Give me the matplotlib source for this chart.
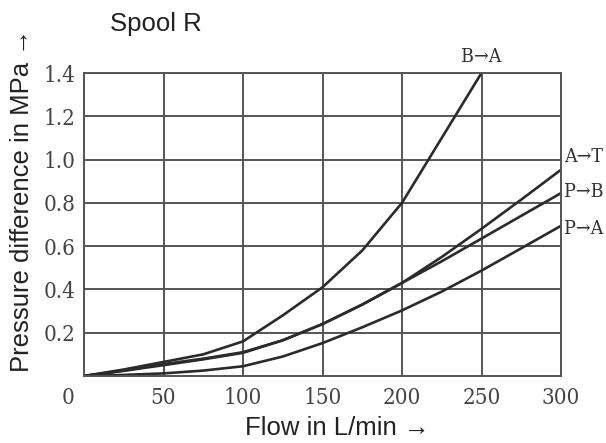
import matplotlib
matplotlib.use("Agg")
import matplotlib.pyplot as plt
from matplotlib import transforms

flow_BA = [0, 25, 50, 75, 100, 125, 150, 175, 200, 225, 250]
dp_BA = [0, 0.03, 0.065, 0.10, 0.16, 0.28, 0.41, 0.58, 0.80, 1.10, 1.40]

flow = [0, 25, 50, 75, 100, 125, 150, 175, 200, 225, 250, 275, 300]
dp_AT = [0, 0.025, 0.055, 0.08, 0.11, 0.165, 0.24, 0.33, 0.43, 0.55, 0.68, 0.815, 0.953]
dp_PB = [0, 0.024, 0.05, 0.077, 0.107, 0.165, 0.24, 0.33, 0.43, 0.53, 0.635, 0.74, 0.845]
dp_PA = [0, 0.005, 0.012, 0.025, 0.045, 0.09, 0.152, 0.225, 0.303, 0.39, 0.487, 0.59, 0.694]

xticks = [0, 50, 100, 150, 200, 250, 300]
yticks = [0.2, 0.4, 0.6, 0.8, 1.0, 1.2, 1.4]
ytick_labels = ["0.2", "0.4", "0.6", "0.8", "1.0", "1.2", "1.4"]

title = "Spool R"
xlabel = "Flow in L/min \u2192"
ylabel = "Pressure difference in MPa \u2192"

serif = dict(family="DejaVu Serif", stretch="condensed")
sans = dict(family="Liberation Sans")

fig = plt.figure(figsize=(6.06, 4.43), dpi=100)
ax = fig.add_axes([84/606, 1-376/443, (561-84)/606, (376-73)/443])

grid_c = "#555555"
line_c = "#2b2b2b"
ax.set_xlim(0, 300)
ax.set_ylim(0, 1.4)
ax.set_xticks(xticks)
ax.set_yticks(yticks)
ax.grid(True, color=grid_c, lw=1.4)
for s in ax.spines.values():
    s.set_color(grid_c)
    s.set_linewidth(1.4)
ax.tick_params(length=0, pad=8, labelcolor="#444444", labelsize=16)
ax.set_xticklabels([str(v) for v in xticks], fontdict=serif)
ax.set_yticklabels(ytick_labels, fontdict=serif)
ax.tick_params(axis="y", pad=6)
# shift the "0" label left to the corner
lbl0 = ax.get_xticklabels()[0]
lbl0.set_transform(lbl0.get_transform() + transforms.ScaledTranslation(-16/100, 0, fig.dpi_scale_trans))

ax.plot(flow_BA, dp_BA, color=line_c, lw=1.9)
ax.plot(flow, dp_AT, color=line_c, lw=1.9)
ax.plot(flow, dp_PB, color=line_c, lw=1.9)
ax.plot(flow, dp_PA, color=line_c, lw=1.9)

lab_kw = dict(color="#333333", fontsize=14, **serif)
ax.annotate("B\u2192A", xy=(flow_BA[-1], dp_BA[-1]), xytext=(0, 5), textcoords="offset points",
            ha="center", va="bottom", annotation_clip=False, **lab_kw)
ax.annotate("A\u2192T", xy=(flow[-1], dp_AT[-1]), xytext=(2, 9), textcoords="offset points",
            ha="left", va="center", annotation_clip=False, **lab_kw)
ax.annotate("P\u2192B", xy=(flow[-1], dp_PB[-1]), xytext=(2, 1), textcoords="offset points",
            ha="left", va="center", annotation_clip=False, **lab_kw)
ax.annotate("P\u2192A", xy=(flow[-1], dp_PA[-1]), xytext=(2, -2), textcoords="offset points",
            ha="left", va="center", annotation_clip=False, **lab_kw)

fig.text(156/606, 1-24/443, title, ha="center", va="center", fontsize=18.5, color="#222222", **sans)
fig.text(337/606, 1-428/443, xlabel, ha="center", va="center", fontsize=18.5, color="#222222", **sans)
fig.text(22/606, 1-201/443, ylabel, ha="center", va="center", rotation=90, fontsize=18.5, color="#222222", **sans)

fig.savefig("out.png", dpi=100)
